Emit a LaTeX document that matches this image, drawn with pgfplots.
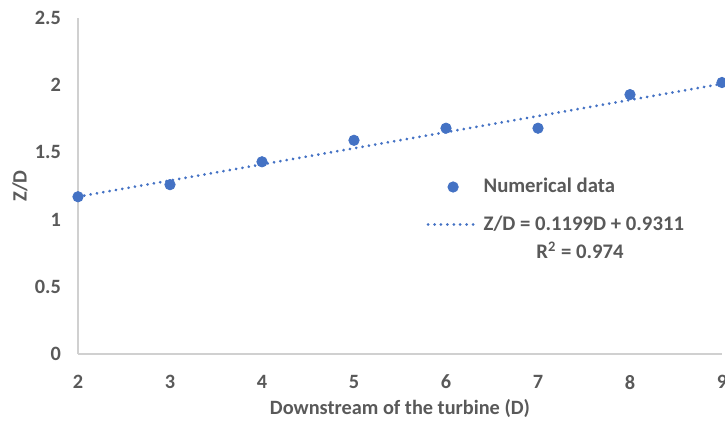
\documentclass[border=0pt]{standalone}
\usepackage{pgfplots}
\pgfplotsset{compat=1.18}
\usepackage{fontspec}
\setmainfont{Carlito}
\definecolor{excelblue}{HTML}{4472C4}
\definecolor{txtgray}{HTML}{595959}
\definecolor{axgray}{HTML}{D0D0D0}
\begin{document}
\begin{tikzpicture}
\begin{axis}[
  scale only axis, width=322bp, height=168bp,
  xmin=2, xmax=9, ymin=0, ymax=2.5,
  xtick={2,3,4,5,6,7,8,9}, ytick={0,0.5,1,1.5,2,2.5},
  axis lines=left,
  axis line style={-, draw=axgray, line width=0.8bp},
  major tick length=0,
  /pgf/number format/assume math mode=true,
  tick label style={font=\bfseries\fontsize{10.2}{12}\selectfont, text=txtgray},
  xticklabel style={yshift=-7bp},
  yticklabel style={xshift=-5bp},
  xlabel={Downstream of the turbine (D)},
  ylabel={Z/D},
  label style={font=\bfseries\fontsize{10.2}{12}\selectfont, text=txtgray},
  x label style={at={(axis description cs:0.5,-0.161)}, anchor=center},
  y label style={at={(axis description cs:-0.09,0.5)}, anchor=center, rotate=0},
  clip=false,
  legend image code/.code={\draw[mark repeat=2,mark phase=2,#1] plot coordinates {(0bp,0bp) (12.5bp,0bp) (25bp,0bp)};},
  legend style={draw=none, fill=none, at={(axis cs:5.72,1.37)}, anchor=north west,
    font=\bfseries\fontsize{10.4}{12}\selectfont, text=txtgray, row sep=6bp},
  legend cell align=left,
]
\addplot[only marks, mark=*, mark size=2.6bp, color=excelblue] coordinates {
  (2,1.17) (3,1.26) (4,1.43) (5,1.59) (6,1.68) (7,1.68) (8,1.93) (9,2.02)
};
\addlegendentry{Numerical data}
\addplot[excelblue, line width=1.5bp, line cap=round, dash pattern=on 0.01bp off 3.2bp, no marks] coordinates {
  (2,1.1709) (9,2.0102)
};
\addlegendentry{Z/D = 0.1199D + 0.9311}
\node[font=\bfseries\fontsize{10.4}{12}\selectfont, text=txtgray] at (axis cs:7.457,0.774) {R\textsuperscript{2} = 0.974};
\end{axis}
\pgfresetboundingbox
\path (-39bp,-33.5bp) rectangle (323.5bp,177bp);
\end{tikzpicture}
\end{document}
